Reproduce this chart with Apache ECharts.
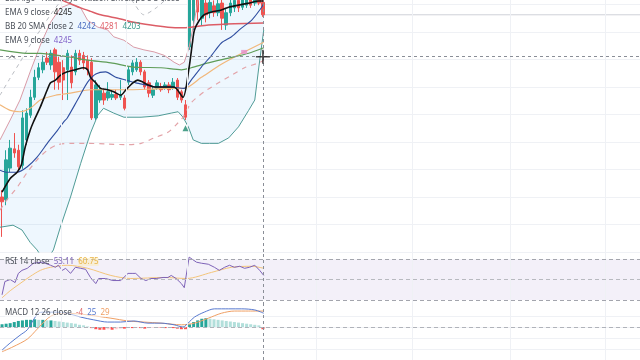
<!DOCTYPE html>
<html><head><meta charset="utf-8">
<script src="https://cdn.jsdelivr.net/npm/echarts/dist/echarts.min.js"></script>
<style>html,body{margin:0;padding:0;background:#fff}#c{width:640px;height:360px}</style>
</head><body><div id="c"></div>
<script>
// ---------- data ----------
const SLOTS = 157;                       // time slots on the axis (65 bars + empty future)
// [open, close, low, high]
const candles = [
[3960,3953,3902,3970],[3956,4014,3948,4028],[4002,4031,3996,4043],[4030,4024,4017,4053],
[4028,4004,3996,4036],[4006,4075,4001,4086],[4043,4082,4036,4089],[4079,4105,4075,4116],
[4105,4134,4101,4145],[4134,4148,4130,4155],[4145,4156,4140,4166],[4162,4156,4152,4171],
[4152,4169,4145,4174],[4174,4142,4116,4177],[4156,4127,4116,4164],[4148,4130,4101,4159],
[4145,4169,4101,4174],[4149,4126,4118,4166],[4142,4169,4137,4174],[4169,4159,4152,4174],
[4166,4155,4145,4171],[4159,4145,4137,4166],[4156,4075,4072,4162],[4075,4123,4072,4130],
[4101,4116,4097,4123],[4111,4101,4094,4118],[4104,4113,4100,4127],[4105,4109,4101,4116],
[4109,4104,4101,4116],[4105,4108,4101,4130],[4104,4089,4086,4108],[4127,4145,4123,4150],
[4142,4155,4137,4159],[4145,4156,4142,4162],[4156,4142,4137,4159],[4142,4120,4116,4145],
[4126,4111,4105,4130],[4108,4116,4104,4120],[4118,4126,4116,4130],[4120,4116,4113,4126],
[4118,4123,4116,4127],[4123,4116,4111,4127],[4118,4127,4116,4133],[4130,4105,4101,4133],
[4113,4101,4097,4116],[4094,4076,4072,4101],[4178,4258,4174,4268],[4217,4254,4203,4264],
[4251,4229,4217,4261],[4220,4249,4210,4258],[4242,4225,4214,4254],[4228,4243,4220,4254],
[4238,4228,4222,4246],[4228,4241,4223,4251],[4242,4220,4203,4249],[4210,4228,4203,4235],
[4228,4242,4223,4251],[4235,4246,4229,4255],[4246,4235,4229,4254],[4236,4249,4232,4255],
[4239,4251,4235,4258],[4249,4239,4235,4255],[4242,4252,4238,4258],[4251,4242,4239,4258],
[4243,4225,4222,4251]
];
// indicator lines: [bar position, value]
const ema9 = [[0,3967],[2,3987],[3.7,3996],[4.7,4006],[5.7,4033],[6.9,4057],[7.7,4069],[9.4,4091],
[11.1,4116],[11.9,4126],[13.1,4130],[14.3,4137],[16,4142],[18,4145],[20,4148],[21,4145],[21.7,4134],
[23,4126],[24.2,4118],[25.9,4116],[27.4,4113],[29.1,4108],[30.4,4116],[32.1,4126],[33.3,4130],
[34.6,4127],[35.8,4123],[37.3,4120],[39.8,4120],[42.2,4120],[44.4,4105],[45.9,4149],[46.7,4184],
[47.2,4203],[48.4,4217],[49.6,4225],[51.4,4229],[53.8,4232],[55.6,4236],[58,4239],[60.5,4242],
[63,4245],[64.2,4245]];
const bbBasis = [[-0.5,3999],[1.2,3996],[3.7,3996],[6.2,4004],[8.6,4018],[11.1,4038],[13.6,4057],
[15.1,4069],[16,4075],[18.5,4101],[21,4127],[23,4139],[25.4,4142],[27.9,4134],[30.4,4130],
[32.8,4126],[35.3,4123],[37.8,4120],[41,4120],[44.7,4118],[46.4,4130],[48.9,4149],[51.4,4166],
[53.8,4184],[56.3,4193],[58.8,4206],[61.2,4217],[63.7,4236],[64.2,4242]];
const bbUpper = [[-0.5,4043],[2,4072],[4.4,4101],[6.9,4142],[9.4,4181],[11.9,4214],[14.3,4235],
[16.8,4241],[19.3,4235],[21,4217],[23.5,4207],[25.9,4203],[27.4,4193],[29.9,4188],[32.3,4178],
[34.8,4174],[37.3,4171],[39.8,4166],[42.2,4156],[43.5,4152],[44.7,4156],[45.9,4178],[47.2,4217],
[48.1,4247],[48.9,4264],[51.4,4283],[56.3,4297],[61.2,4294],[64.2,4281]];
const bbLower = [[-0.5,3916],[2.7,3919],[4.9,3912],[6.9,3894],[8.6,3883],[10.6,3865],[12.6,3883],
[14.3,3916],[16.8,3960],[19.3,4009],[21.7,4053],[23.5,4079],[24.9,4089],[27.4,4082],[29.9,4076],
[34.1,4076],[38.3,4078],[41.5,4082],[43.2,4084],[44.4,4076],[45.7,4062],[46.9,4043],[48.9,4038],
[50.9,4038],[53.1,4038],[55.6,4046],[58,4062],[60.5,4086],[62,4101],[63,4149],[64.2,4203]];
const emaSlow = [[-0.5,4174],[6.2,4169],[9.4,4169],[16,4164],[21,4159],[26.7,4155],[32.3,4149],
[39,4148],[44,4145],[46.4,4148],[50.6,4155],[55.6,4162],[60.5,4169],[64.2,4177]];
const emaMid = [[-0.5,4094],[2,4086],[4.4,4084],[6.9,4089],[9.4,4101],[13.1,4108],[16.8,4111],
[21.7,4116],[26.7,4116],[31.6,4116],[36.5,4117],[41.5,4118],[44.7,4118],[48.9,4134],[53.8,4153],
[58.8,4169],[64.2,4185]];
const nwLower = [[-0.5,3941],[1.2,3956],[3.7,3974],[6.2,3996],[8.6,4014],[11.1,4028],[13.6,4036],
[16.8,4038],[21,4038],[25.9,4037],[30.9,4036],[34.1,4038],[37.3,4046],[40.7,4054],[43.2,4068],
[44.4,4076],[46.4,4097],[49.6,4113],[53.1,4126],[56.3,4137],[59.5,4148],[63,4155],[64.2,4159]];
const nwUpper = [[-0.5,4108],[2,4133],[4.4,4156],[6.9,4181],[9.4,4203],[11.9,4225],[14.3,4244],
[16.8,4258],[19.3,4268],[26.7,4264],[31.6,4247],[34.8,4225],[37.8,4235],[40.2,4247],[44,4261]];
const nwMid = [[13.1,4249],[14.3,4247],[16.8,4241],[19.3,4235],[21.7,4230],[24.2,4225],[29.1,4219],
[32.3,4214],[36.5,4210],[40.7,4207],[44,4206],[46.4,4207],[50.6,4210],[57,4212],[64.2,4213]];
const buySignals = [[45,4060]];
const pinkMarks = [[59.4,4171]];
const rsi = [[0,35],[0.7,48],[2,50],[3.2,47],[4,56],[4.9,59],[6.2,61],[7.7,66],[9.9,67],[11.9,64],
[13.1,62],[13.8,64],[14.8,59],[15.6,61],[16.8,56],[18,62],[19.3,61],[20.5,60],[21.7,52],[23,46],
[23.7,51],[25.4,51],[27.2,49],[29.1,49],[30.9,56],[32.1,56],[32.8,56],[34.1,51],[35.3,49],[36.5,51],
[37.8,51],[39.5,52],[40.7,52],[41.5,54],[42.7,51],[44,46],[44.7,42],[45.9,72],[47.7,67],[48.9,66],
[50.6,65],[52.1,62],[53.3,59],[54.6,62],[55.8,64],[57,62],[58.3,63],[59.5,61],[60.7,62],[62,64],
[63.2,59],[64.2,54]];
const rsiMa = [[0,32],[2,39],[4.4,46],[6.9,53],[9.4,59],[11.9,62],[16,64],[21,61],[26.7,54],
[31.6,51],[39.8,52],[45.2,51],[51.4,57],[56.3,62],[61.2,63],[64.2,61]];
const macd = [[0,-42],[2,-29],[4.4,-15],[6.2,-5],[7.7,13],[8.9,25],[10.1,27],[13.6,27],[16,25],
[19.3,18],[22.5,13],[25.9,9],[29.1,9],[32.3,11],[35.8,7],[39,7],[42.2,4],[44.4,0],[45.9,9],
[47.2,18],[49.6,27],[52.1,33],[55.6,33],[58.8,33],[62,31],[64.2,25]];
const signal = [[0,-45],[2.7,-36],[6.2,-22],[8.6,-4],[11.1,15],[12.6,22],[15.1,25],[18.5,24],
[21,22],[26.7,16],[30.9,11],[34.8,9],[39,7],[44,4],[47.2,7],[50.6,16],[53.8,25],[57,29],[60.5,29],[64.2,29]];
const hist = [5,6,7,9,11,12,13,13,14,13,13,12,12,11,10,9,8,7,6,4,3,1,-2,-4,-5,-5,-4,-5,-4,-3,-3,
-1,-2,-1,-2,-3,-2,-1,-1,-1,-2,-1,-2,-3,-4,-4,5,9,12,15,16,15,14,13,12,11,10,9,8,7,6,5,4,3,-4];
const timeMarks = [14.5, 30.4, 45.4, 77, 100.6, 124.6, 148];   // vertical grid (session boundaries)
const crossIdx = 64, crossPrice = 4164;
const legendMain = {ema1: '4245', bb: ['4242','4281','4203'], ema2: '4245'};
const legendRsi = ['53.11','60.75'];
const legendMacd = ['-4','25','29'];

// ---------- chart ----------
const chart = echarts.init(document.getElementById('c'), null, {renderer:'canvas'});
const GRID = '#eff1f5';
const FONT = 'Noto Sans';
const TXT = '#4a4f58';
const F = '8px ' + FONT;
const lastClose = candles[candles.length-1][1];
const cats = candles.map((_, i) => i).concat(Array(SLOTS - candles.length).fill(0).map((_, k) => candles.length + k));

function vx(gi){ return {type:'value', gridIndex:gi, min:-0.5, max:SLOTS-0.5, show:false}; }
const vLines = timeMarks.map(v => ({xAxis:v, lineStyle:{color:GRID, type:'solid', width:1}}));
function crossV(){ return {xAxis:crossIdx, lineStyle:{color:'#8a8e97', type:[3,3], width:1}}; }
function ml(data){ return {silent:true, symbol:['none','none'], label:{show:false}, animation:false, data}; }
function line(name, data, color, w, extra){
  return Object.assign({type:'line', name, data, xAxisIndex:1, yAxisIndex:0, symbol:'none', smooth:0.25,
    lineStyle:{color, width:w}, clip:true, animation:false, z:3}, extra||{});
}

const histColors = hist.map((v,i) => {
  const p = i>0 ? hist[i-1] : 0;
  if (v >= 0) return v >= p ? '#26a69a' : '#b2dfdb';
  return v <= p ? '#ff5252' : '#ffcdd2';
});

const option = {
  animation:false,
  backgroundColor:'#ffffff',
  grid:[
    {left:0, right:0, top:0, height:252},
    {left:0, right:0, top:252, height:53},
    {left:0, right:0, top:305, height:55}
  ],
  xAxis:[
    {type:'category', gridIndex:0, data:cats, show:false, boundaryGap:true},
    vx(0), vx(1), vx(2)
  ],
  yAxis:[
    {type:'value', gridIndex:0, min:3880, max:4246.5, interval:40, axisLabel:{show:false}, axisLine:{show:false}, axisTick:{show:false},
     splitLine:{show:true, showMaxLine:false, lineStyle:{color:GRID}}},
    {type:'value', gridIndex:1, min:25, max:77, show:false, splitLine:{show:false}},
    {type:'value', gridIndex:2, min:-60, max:40, interval:20, axisLabel:{show:false}, axisLine:{show:false}, axisTick:{show:false},
     splitLine:{show:true, showMaxLine:false, showMinLine:false, lineStyle:{color:GRID}}}
  ],
  series:[
    {type:'custom', xAxisIndex:1, yAxisIndex:0, data:[0], silent:true, z:1,
     renderItem:(params, api) => {
       const pts = bbUpper.map(p => api.coord(p));
       for (let k = bbLower.length-1; k >= 0; k--) pts.push(api.coord(bbLower[k]));
       const cs = params.coordSys;
       return {type:'polygon', shape:{points:pts}, style:{fill:'rgba(33,150,243,0.075)'},
               clipPath:{type:'rect', shape:{x:cs.x, y:cs.y, width:cs.width, height:cs.height}}};
     }},
    {type:'line', xAxisIndex:1, yAxisIndex:0, data:[[crossIdx, lastClose],[SLOTS-0.5, lastClose]], symbol:'none',
     lineStyle:{color:'#cfd2d8', width:1}, z:2, silent:true,
     markLine: ml(vLines.concat([crossV(), {yAxis:crossPrice, lineStyle:{color:'#8a8e97', type:[3,3], width:1}}]))},
    {type:'candlestick', xAxisIndex:0, yAxisIndex:0, data:candles, barWidth:3, clip:true, z:2,
     itemStyle:{color:'#26a69a', color0:'#ef5350', borderColor:'#26a69a', borderColor0:'#ef5350', borderWidth:1}},
    line('bbUpper', bbUpper, '#d99aa6', 1, {smooth:false}),
    line('bbLower', bbLower, '#4f9b96', 1, {smooth:false}),
    line('nwUpper', nwUpper, '#b9bcc2', 1, {lineStyle:{color:'#b9bcc2', width:1, type:[4,4]}}),
    line('nwLower', nwLower, '#e3a3a8', 1.2, {lineStyle:{color:'#e3a3a8', width:1.2, type:[5,5]}}),
    line('nwMid', nwMid, '#dc5d66', 1.5),
    line('emaMid', emaMid, '#f1b77a', 1.2),
    line('emaSlow', emaSlow, '#5f9d58', 1.2),
    line('bbBasis', bbBasis, '#2f4ea0', 1.1),
    line('ema9', ema9, '#111111', 1.6),
    {type:'scatter', xAxisIndex:0, yAxisIndex:0, data:buySignals, symbol:'triangle', symbolSize:[6,6],
     itemStyle:{color:'#1f8a6e'}, z:5, silent:true},
    {type:'scatter', xAxisIndex:1, yAxisIndex:0, data:pinkMarks, symbol:'rect', symbolSize:[6,4],
     itemStyle:{color:'#e58cc8'}, z:5, silent:true},
    {type:'scatter', xAxisIndex:1, yAxisIndex:0, data:[[crossIdx, crossPrice]], symbol:'path://M6,0h1.6v13.6h-1.6z M0,6h13.6v1.6h-13.6z',
     symbolSize:14, itemStyle:{color:'#1a1a1a'}, z:10, silent:true},
    // RSI
    {type:'line', xAxisIndex:2, yAxisIndex:1, data:rsiMa, symbol:'none', smooth:0.3, lineStyle:{color:'#f3c57a', width:1}, z:3,
     markArea:{silent:true, itemStyle:{color:'rgba(126,87,194,0.09)'}, data:[[{yAxis:70},{yAxis:30}]]}},
    {type:'line', xAxisIndex:2, yAxisIndex:1, data:rsi, symbol:'none', lineStyle:{color:'#7e63b8', width:1}, z:4,
     markLine: ml(vLines.concat([crossV(),
       {yAxis:70, lineStyle:{color:'#a3a5ad', type:[4,3], width:1}},
       {yAxis:50, lineStyle:{color:'#b8bac0', type:[4,3], width:1}},
       {yAxis:30, lineStyle:{color:'#a3a5ad', type:[4,3], width:1}}]))},
    // MACD
    {type:'bar', xAxisIndex:3, yAxisIndex:2, barWidth:3, z:2,
     data: hist.map((v,i) => ({value:[i, v], itemStyle:{color:histColors[i]}}))},
    {type:'line', xAxisIndex:3, yAxisIndex:2, data:signal, symbol:'none', smooth:0.3, lineStyle:{color:'#f0a065', width:1}, z:3},
    {type:'line', xAxisIndex:3, yAxisIndex:2, data:macd, symbol:'none', smooth:0.3, lineStyle:{color:'#5779cf', width:1}, z:3,
     markLine: ml(vLines.concat([crossV(), {yAxis:0, lineStyle:{color:'#b0b3ba', type:[4,3], width:1}}]))}
  ],
  graphic:[
    {type:'text', x:5, y:-5, z:20, style:{text:'LuxAlgo · Nadaraya-Watson Envelope 8 3 close', font:F, fill:TXT}},
    {type:'text', x:5, y:9, z:20, style:{text:'EMA 9 close  {v|'+legendMain.ema1+'}', font:F, fill:TXT,
      rich:{v:{fill:'#1a1a1a', font:F}}}},
    {type:'text', x:5, y:23, z:20, style:{text:'BB 20 SMA close 2  {b|'+legendMain.bb[0]+'}  {r|'+legendMain.bb[1]+'}  {g|'+legendMain.bb[2]+'}',
      font:F, fill:TXT,
      rich:{b:{fill:'#4a6cc0', font:F}, r:{fill:'#e0606a', font:F}, g:{fill:'#3a9a8c', font:F}}}},
    {type:'text', x:5, y:37, z:20, style:{text:'EMA 9 close  {p|'+legendMain.ema2+'}', font:F, fill:TXT,
      rich:{p:{fill:'#8060c8', font:F}}}},
    {type:'polyline', z:20, shape:{points:[[9,58.5],[12,55.5],[15,58.5]]}, style:{stroke:TXT, lineWidth:1, fill:null}},
    {type:'text', x:5, y:258, z:20, style:{text:'RSI 14 close  {p|'+legendRsi[0]+'}  {y|'+legendRsi[1]+'}', font:F, fill:TXT,
      rich:{p:{fill:'#7e63b8', font:F}, y:{fill:'#e9b548', font:F, backgroundColor:'rgba(255,236,170,0.45)'}}}},
    {type:'text', x:5, y:309, z:20, style:{text:'MACD 12 26 close  {r|'+legendMacd[0]+'}  {b|'+legendMacd[1]+'}  {o|'+legendMacd[2]+'}', font:F, fill:TXT,
      backgroundColor:'rgba(255,255,255,0.55)',
      rich:{r:{fill:'#e07070', font:F}, b:{fill:'#5779cf', font:F}, o:{fill:'#f0a065', font:F}}}}
  ]
};
chart.setOption(option);
</script>
</body></html>
